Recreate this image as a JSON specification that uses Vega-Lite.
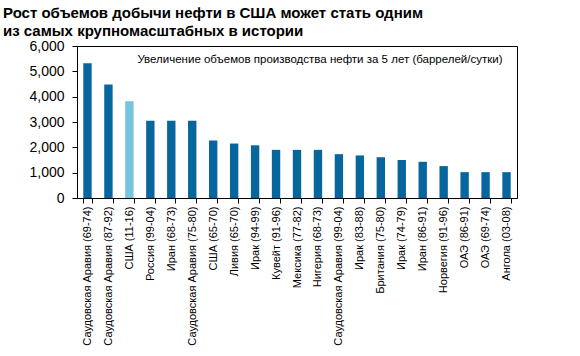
{
  "$schema": "https://vega.github.io/schema/vega-lite/v6.json",
  "width": 440,
  "height": 152,
  "autosize": {"type": "none"},
  "padding": {"left": 77, "top": 46, "right": 63, "bottom": 158},
  "background": "white",
  "config": {
    "font": "Liberation Sans",
    "view": {"stroke": "#000000", "strokeWidth": 1},
    "axis": {"domainColor": "#000000", "tickColor": "#000000", "labelColor": "#000000", "grid": false}
  },
  "title": {
    "text": ["Рост объемов добычи нефти в США может стать одним", "из самых крупномасштабных в истории"],
    "anchor": "start",
    "frame": "group",
    "dx": -74,
    "offset": 0,
    "fontSize": 15,
    "fontWeight": "bold",
    "lineHeight": 18,
    "color": "#000000",
    "font": "Liberation Sans"
  },
  "data": {
    "values": [
      {"cat": "Саудовская Аравия (69-74)", "v": 5320, "hl": "n"},
      {"cat": "Саудовская Аравия (87-92)", "v": 4480, "hl": "n"},
      {"cat": "США (11-16)", "v": 3820, "hl": "y"},
      {"cat": "Россия (99-04)", "v": 3050, "hl": "n"},
      {"cat": "Иран (68-73)", "v": 3050, "hl": "n"},
      {"cat": "Саудовская Аравия (75-80)", "v": 3050, "hl": "n"},
      {"cat": "США (65-70)", "v": 2270, "hl": "n"},
      {"cat": "Ливия (65-70)", "v": 2150, "hl": "n"},
      {"cat": "Ирак (94-99)", "v": 2080, "hl": "n"},
      {"cat": "Кувейт (91-96)", "v": 1900, "hl": "n"},
      {"cat": "Мексика (77-82)", "v": 1900, "hl": "n"},
      {"cat": "Нигерия (68-73)", "v": 1900, "hl": "n"},
      {"cat": "Саудовская Аравия (99-04)", "v": 1730, "hl": "n"},
      {"cat": "Ирак (83-88)", "v": 1680, "hl": "n"},
      {"cat": "Британия (75-80)", "v": 1610, "hl": "n"},
      {"cat": "Ирак (74-79)", "v": 1500, "hl": "n"},
      {"cat": "Иран (86-91)", "v": 1430, "hl": "n"},
      {"cat": "Норвегия (91-96)", "v": 1260, "hl": "n"},
      {"cat": "ОАЭ (86-91)", "v": 1020, "hl": "n"},
      {"cat": "ОАЭ (69-74)", "v": 1020, "hl": "n"},
      {"cat": "Ангола (03-08)", "v": 1020, "hl": "n"}
    ]
  },
  "encoding": {
    "x": {
      "field": "cat", "type": "nominal", "sort": null,
      "scale": {"paddingInner": 0.6, "paddingOuter": 0.3},
      "axis": {"title": null, "labelAngle": -90, "labelFontSize": 11, "tickBand": "extent", "tickSize": 5, "labelPadding": 3}
    },
    "y": {
      "field": "v", "type": "quantitative",
      "scale": {"domain": [0, 6000], "nice": false},
      "axis": {"title": null, "values": [0, 1000, 2000, 3000, 4000, 5000, 6000], "format": ",d", "labelFontSize": 14, "labelOverlap": false, "labelBound": false, "labelFlush": false, "tickSize": 5, "labelPadding": 8}
    }
  },
  "layer": [
    {
      "mark": {"type": "bar"},
      "encoding": {
        "color": {
          "field": "hl", "type": "nominal",
          "scale": {"domain": ["n", "y"], "range": ["#07669b", "#76c5de"]},
          "legend": null
        }
      }
    },
    {
      "data": {"values": [{"cat": "Ангола (03-08)", "v": 5330, "note": "Увеличение объемов производства нефти за 5 лет (баррелей/сутки)"}]},
      "mark": {"type": "text", "align": "right", "baseline": "alphabetic", "fontSize": 11.5, "dx": -4, "color": "#000000"},
      "encoding": {
        "text": {"field": "note"}
      }
    }
  ]
}
